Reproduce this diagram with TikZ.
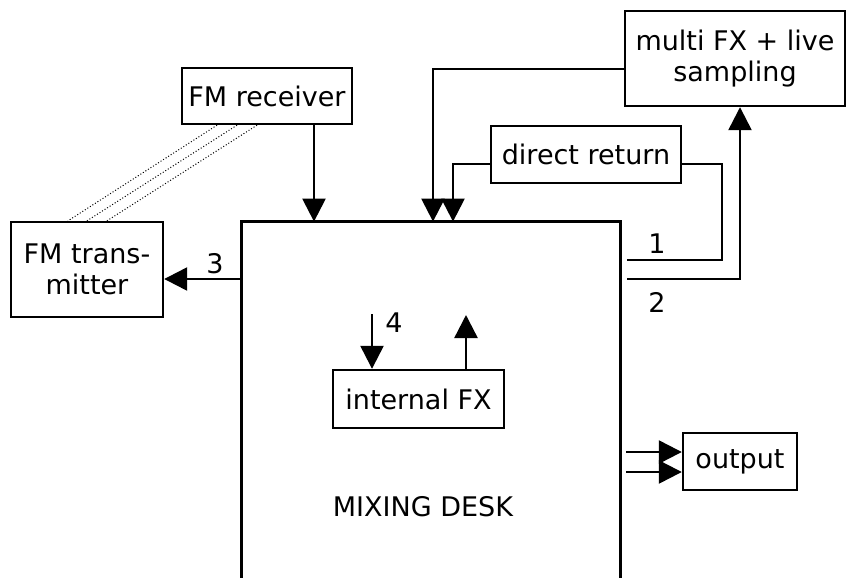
\documentclass[tikz,border=0pt]{standalone}
\usepackage{fontspec}
\setmainfont{DejaVu Sans}
\usepackage{tikz}
\usetikzlibrary{
  arrows.meta,              % 实心三角箭头
  calc                      % 坐标计算
}

\begin{document}
\begin{tikzpicture}[x=0.5pt, y=-0.5pt,
  unit/.style={draw, line width=1.2pt, inner sep=0pt, align=center,
    font=\fontsize{13.5}{15.5}\selectfont},
  sig/.style={line width=1.2pt, -{Triangle[length=11.5pt, width=11.5pt]}},
  wire/.style={line width=1.2pt},
  radio/.style={line width=0.5pt, densely dotted},
  tag/.style={font=\fontsize{13.5}{15.5}\selectfont, inner sep=0pt}]
  \useasboundingbox (0, 0) rectangle (846, 578);

  % 绘制各个设备方框
  \node[unit, minimum width=110pt, minimum height=47.5pt] (multifx) at (735, 58.5) {multi FX + live\\sampling};
  \node[unit, minimum width=85pt, minimum height=28pt] (fmrx) at (267, 96) {FM receiver};
  \node[unit, minimum width=95pt, minimum height=28.5pt] (direct) at (586, 154.5) {direct return};
  \node[unit, minimum width=76pt, minimum height=47.5pt] (fmtx) at (87, 269.5) {FM trans-\\mitter};
  \node[unit, minimum width=85.5pt, minimum height=29pt] (intfx) at (418.5, 399) {internal FX};
  \node[unit, minimum width=57pt, minimum height=28.5pt] (output) at (740, 461.5) {output};

  % 调音台（底边不画）
  \node[minimum width=189pt, minimum height=178pt] (mixer) at (431, 400) {};
  \draw[wire] (mixer.south west) -- (mixer.north west) -- (mixer.north east) -- (mixer.south east);
  \node[tag] (desk) at (423, 507) {MIXING DESK};

  % 连线用的辅助点
  \coordinate (rxin) at (314, 0);
  \coordinate (tx) at (0, 279);
  \coordinate (fxret) at (433, 69);
  \coordinate (dirret) at (453, 164);
  \coordinate (s1a) at (627, 260);
  \coordinate (s1) at (722, 260);
  \coordinate (s2a) at (627, 279);
  \coordinate (s2) at (740, 279);
  \coordinate (o1) at (626, 452);
  \coordinate (o2) at (626, 472);
  \coordinate (fxa) at (372, 314);
  \coordinate (fxb) at (466, 315);

  % 无线信号（虚线）
  \foreach \a/\b in {-25/-9.5, -15/0, -5/10}
    \draw[radio] ([xshift=\a pt]fmrx.south) -- ([xshift=\b pt]fmtx.north);

  % 信号连线
  \draw[sig] (fmrx.south -| rxin) -- (mixer.north -| rxin);
  \draw[sig] (mixer.west |- tx) -- (fmtx.east |- tx);
  \draw[sig] (multifx.west |- fxret) -- (fxret) -- (fxret |- mixer.north);
  \draw[sig] (direct.west |- dirret) -- (dirret) -- (dirret |- mixer.north);
  \draw[wire] (s1a) -- (s1) -- (s1 |- dirret) -- (direct.east |- dirret);
  \draw[sig] (s2a) -- (s2) -- (s2 |- multifx.south);
  \draw[sig] (o1) -- (o1 -| output.west);
  \draw[sig] (o2) -- (o2 -| output.west);
  \draw[sig] (fxa) -- (fxa |- intfx.north);
  \draw[sig] (fxb |- intfx.north) -- (fxb);

  % 编号
  \node[tag] (n1) at (657, 244) {1};
  \node[tag] (n2) at (657, 302.5) {2};
  \node[tag] (n3) at (215, 264) {3};
  \node[tag] (n4) at (394, 323) {4};
\end{tikzpicture}
\end{document}
